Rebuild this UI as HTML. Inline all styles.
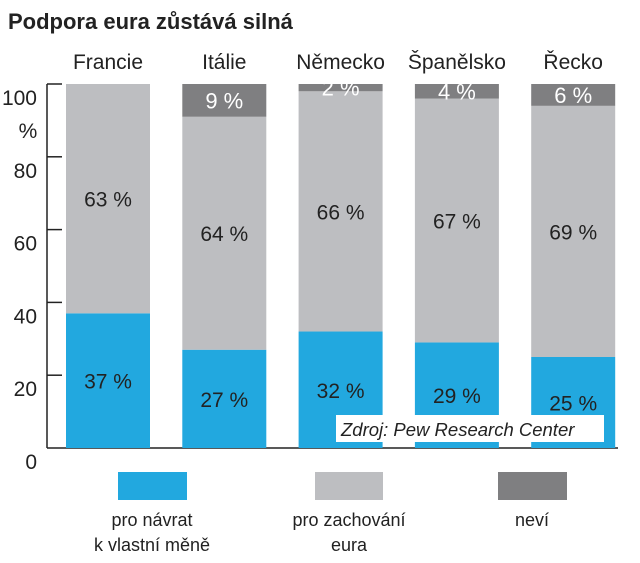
<!DOCTYPE html>
<html><head><meta charset="utf-8"><style>
body{margin:0;background:#fff;}
svg text{font-family:"Liberation Sans",Arial,sans-serif;fill:#222;}
</style></head><body>
<svg width="640" height="558" viewBox="0 0 640 558">
<text x="8" y="29" font-size="22" font-weight="bold">Podpora eura zůstává silná</text>
<g id="axis"></g>
<g id="bars"></g>
<g>
<rect x="336" y="415" width="268" height="27" fill="#fff"/>
<text x="341" y="436" font-size="18.5" font-style="italic">Zdroj: Pew Research Center</text>
</g>
<g>
<rect x="118" y="472" width="69" height="28" fill="#22a8df"/>
<rect x="315" y="472" width="68" height="28" fill="#bdbec1"/>
<rect x="498" y="472" width="69" height="28" fill="#7f7f81"/>
<text x="152" y="526" font-size="18" text-anchor="middle">pro návrat</text>
<text x="152" y="551" font-size="18" text-anchor="middle">k vlastní měně</text>
<text x="349" y="526" font-size="18" text-anchor="middle">pro zachování</text>
<text x="349" y="551" font-size="18" text-anchor="middle">eura</text>
<text x="532" y="526" font-size="18" text-anchor="middle">neví</text>
</g>
</svg>
<script>
const countries=["Francie","Itálie","Německo","Španělsko","Řecko"];
const returnVals=[37,27,32,29,25];
const keepVals=[63,64,66,67,69];
const dkVals=[0,9,2,4,6];
const yTicks=[0,20,40,60,80,100];
const NS="http://www.w3.org/2000/svg";
const y0=448,yTop=84;
function y(v){return y0-(y0-yTop)*v/100;}
function x(i){return 66+i*116.3;}
const bw=84;
function mk(tag,attrs,parent){const e=document.createElementNS(NS,tag);for(const k in attrs)e.setAttribute(k,attrs[k]);parent.appendChild(e);return e;}
const ax=document.getElementById('axis'),bars=document.getElementById('bars');
let l=mk('line',{x1:47,y1:yTop,x2:47,y2:y0,stroke:'#222','stroke-width':1.5},ax);


l=mk('line',{x1:47,y1:y0,x2:618,y2:y0,stroke:'#222','stroke-width':1.5},ax);


yTicks.forEach(t=>{
  if(t>0){const tk=mk('line',{x1:47,y1:y(t),x2:62,y2:y(t),stroke:'#222','stroke-width':1.5},ax);
  
  }
  const tx=mk('text',{x:37,y:y(t)+21,'font-size':21,'text-anchor':'end'},ax);tx.textContent=t;
  
  
});
const pc=mk('text',{x:28,y:138,'font-size':21,'text-anchor':'middle'},ax);pc.textContent='%';


countries.forEach((c,i)=>{
  const cx=x(i)+bw/2;
  const ct=mk('text',{x:cx,y:69,'font-size':21,'text-anchor':'middle'},bars);ct.textContent=c;
  
  
  const r=returnVals[i],k=keepVals[i],d=dkVals[i];
  let b=mk('rect',{x:x(i),y:y(r),width:bw,height:y(0)-y(r),fill:'#22a8df'},bars);
  
  
  b=mk('rect',{x:x(i),y:y(r+k),width:bw,height:y(r)-y(r+k),fill:'#bdbec1'},bars);
  
  
  if(d>0){b=mk('rect',{x:x(i),y:y(r+k+d),width:bw,height:y(r+k)-y(r+k+d),fill:'#7f7f81'},bars);
  
  }
  let t=mk('text',{x:cx,y:y(r/2)+8,'font-size':21,'text-anchor':'middle'},bars);t.textContent=r+' %';
  
  
  t=mk('text',{x:cx,y:y(r+k/2)+8,'font-size':21,'text-anchor':'middle'},bars);t.textContent=k+' %';
  
  
  if(d>0){t=mk('text',{x:cx,y:y(r+k+d/2)+8,'font-size':22,'text-anchor':'middle',style:'fill:#fff'},bars);t.textContent=d+' %';
  
  }
});
</script>
</body></html>
